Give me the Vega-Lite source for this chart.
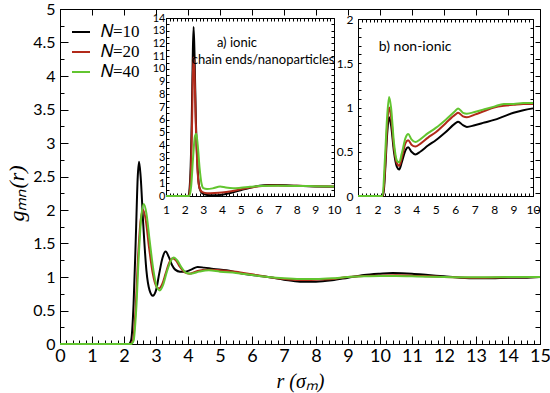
{
  "$schema": "https://vega.github.io/schema/vega-lite/v6.json",
  "width": 480,
  "height": 335,
  "autosize": {"type": "none"},
  "padding": {"left": 60, "top": 9, "right": 10, "bottom": 49},
  "config": {
    "view": {"stroke": null},
    "axis": {"grid": false, "domainColor": "#000000", "tickColor": "#000000", "labelColor": "#000000", "titleColor": "#000000", "labelFont": "Lato", "labelOverlap": false, "labelFlush": false}
  },
  "datasets": {
    "dummy": [{"k": 1}],
    "main": [
      {"N": "𝑁=10", "r": 0, "g": 0}, {"N": "𝑁=10", "r": 2.15, "g": 0}, {"N": "𝑁=10", "r": 2.22, "g": 0.05}, {"N": "𝑁=10", "r": 2.3, "g": 0.6}, {"N": "𝑁=10", "r": 2.37, "g": 1.6}, {"N": "𝑁=10", "r": 2.43, "g": 2.5}, {"N": "𝑁=10", "r": 2.47, "g": 2.72}, {"N": "𝑁=10", "r": 2.52, "g": 2.5}, {"N": "𝑁=10", "r": 2.6, "g": 1.8}, {"N": "𝑁=10", "r": 2.7, "g": 1.1}, {"N": "𝑁=10", "r": 2.8, "g": 0.8}, {"N": "𝑁=10", "r": 2.9, "g": 0.72}, {"N": "𝑁=10", "r": 3.0, "g": 0.8}, {"N": "𝑁=10", "r": 3.1, "g": 1.05}, {"N": "𝑁=10", "r": 3.2, "g": 1.28}, {"N": "𝑁=10", "r": 3.3, "g": 1.38}, {"N": "𝑁=10", "r": 3.4, "g": 1.3}, {"N": "𝑁=10", "r": 3.5, "g": 1.18}, {"N": "𝑁=10", "r": 3.6, "g": 1.11}, {"N": "𝑁=10", "r": 3.75, "g": 1.08}, {"N": "𝑁=10", "r": 3.9, "g": 1.08}, {"N": "𝑁=10", "r": 4.1, "g": 1.11}, {"N": "𝑁=10", "r": 4.3, "g": 1.15}, {"N": "𝑁=10", "r": 4.5, "g": 1.14}, {"N": "𝑁=10", "r": 4.8, "g": 1.12}, {"N": "𝑁=10", "r": 5.2, "g": 1.1}, {"N": "𝑁=10", "r": 5.6, "g": 1.06}, {"N": "𝑁=10", "r": 6.0, "g": 1.03}, {"N": "𝑁=10", "r": 6.5, "g": 1.0}, {"N": "𝑁=10", "r": 7.0, "g": 0.96}, {"N": "𝑁=10", "r": 7.5, "g": 0.93}, {"N": "𝑁=10", "r": 8.0, "g": 0.93}, {"N": "𝑁=10", "r": 8.5, "g": 0.95}, {"N": "𝑁=10", "r": 9.0, "g": 0.99}, {"N": "𝑁=10", "r": 9.5, "g": 1.03}, {"N": "𝑁=10", "r": 10.0, "g": 1.05}, {"N": "𝑁=10", "r": 10.4, "g": 1.06}, {"N": "𝑁=10", "r": 11.0, "g": 1.05}, {"N": "𝑁=10", "r": 11.5, "g": 1.03}, {"N": "𝑁=10", "r": 12.0, "g": 1.01}, {"N": "𝑁=10", "r": 12.5, "g": 0.99}, {"N": "𝑁=10", "r": 13.0, "g": 0.98}, {"N": "𝑁=10", "r": 13.5, "g": 0.98}, {"N": "𝑁=10", "r": 14.0, "g": 0.99}, {"N": "𝑁=10", "r": 14.5, "g": 0.99}, {"N": "𝑁=10", "r": 15.0, "g": 1.0},
      {"N": "𝑁=20", "r": 0, "g": 0}, {"N": "𝑁=20", "r": 2.2, "g": 0}, {"N": "𝑁=20", "r": 2.28, "g": 0.05}, {"N": "𝑁=20", "r": 2.36, "g": 0.5}, {"N": "𝑁=20", "r": 2.44, "g": 1.3}, {"N": "𝑁=20", "r": 2.52, "g": 1.85}, {"N": "𝑁=20", "r": 2.6, "g": 2.0}, {"N": "𝑁=20", "r": 2.68, "g": 1.85}, {"N": "𝑁=20", "r": 2.78, "g": 1.45}, {"N": "𝑁=20", "r": 2.9, "g": 1.05}, {"N": "𝑁=20", "r": 3.0, "g": 0.87}, {"N": "𝑁=20", "r": 3.1, "g": 0.83}, {"N": "𝑁=20", "r": 3.2, "g": 0.9}, {"N": "𝑁=20", "r": 3.3, "g": 1.05}, {"N": "𝑁=20", "r": 3.42, "g": 1.22}, {"N": "𝑁=20", "r": 3.52, "g": 1.28}, {"N": "𝑁=20", "r": 3.62, "g": 1.25}, {"N": "𝑁=20", "r": 3.75, "g": 1.15}, {"N": "𝑁=20", "r": 3.9, "g": 1.07}, {"N": "𝑁=20", "r": 4.05, "g": 1.05}, {"N": "𝑁=20", "r": 4.3, "g": 1.09}, {"N": "𝑁=20", "r": 4.6, "g": 1.11}, {"N": "𝑁=20", "r": 5.0, "g": 1.1}, {"N": "𝑁=20", "r": 5.5, "g": 1.08}, {"N": "𝑁=20", "r": 6.0, "g": 1.04}, {"N": "𝑁=20", "r": 6.5, "g": 1.0}, {"N": "𝑁=20", "r": 7.0, "g": 0.97}, {"N": "𝑁=20", "r": 7.5, "g": 0.955}, {"N": "𝑁=20", "r": 8.0, "g": 0.96}, {"N": "𝑁=20", "r": 8.5, "g": 0.97}, {"N": "𝑁=20", "r": 9.0, "g": 1.0}, {"N": "𝑁=20", "r": 9.5, "g": 1.015}, {"N": "𝑁=20", "r": 10.0, "g": 1.02}, {"N": "𝑁=20", "r": 10.5, "g": 1.025}, {"N": "𝑁=20", "r": 11.0, "g": 1.02}, {"N": "𝑁=20", "r": 11.5, "g": 1.01}, {"N": "𝑁=20", "r": 12.0, "g": 1.0}, {"N": "𝑁=20", "r": 13.0, "g": 0.99}, {"N": "𝑁=20", "r": 14.0, "g": 0.995}, {"N": "𝑁=20", "r": 15.0, "g": 1.0},
      {"N": "𝑁=40", "r": 0, "g": 0}, {"N": "𝑁=40", "r": 2.22, "g": 0}, {"N": "𝑁=40", "r": 2.3, "g": 0.05}, {"N": "𝑁=40", "r": 2.38, "g": 0.5}, {"N": "𝑁=40", "r": 2.46, "g": 1.3}, {"N": "𝑁=40", "r": 2.54, "g": 1.9}, {"N": "𝑁=40", "r": 2.62, "g": 2.09}, {"N": "𝑁=40", "r": 2.7, "g": 1.95}, {"N": "𝑁=40", "r": 2.8, "g": 1.55}, {"N": "𝑁=40", "r": 2.92, "g": 1.1}, {"N": "𝑁=40", "r": 3.02, "g": 0.86}, {"N": "𝑁=40", "r": 3.12, "g": 0.8}, {"N": "𝑁=40", "r": 3.22, "g": 0.88}, {"N": "𝑁=40", "r": 3.34, "g": 1.08}, {"N": "𝑁=40", "r": 3.46, "g": 1.24}, {"N": "𝑁=40", "r": 3.56, "g": 1.29}, {"N": "𝑁=40", "r": 3.66, "g": 1.25}, {"N": "𝑁=40", "r": 3.8, "g": 1.14}, {"N": "𝑁=40", "r": 3.95, "g": 1.06}, {"N": "𝑁=40", "r": 4.1, "g": 1.05}, {"N": "𝑁=40", "r": 4.35, "g": 1.08}, {"N": "𝑁=40", "r": 4.65, "g": 1.1}, {"N": "𝑁=40", "r": 5.0, "g": 1.08}, {"N": "𝑁=40", "r": 5.5, "g": 1.06}, {"N": "𝑁=40", "r": 6.0, "g": 1.03}, {"N": "𝑁=40", "r": 6.5, "g": 1.0}, {"N": "𝑁=40", "r": 7.0, "g": 0.98}, {"N": "𝑁=40", "r": 7.5, "g": 0.97}, {"N": "𝑁=40", "r": 8.0, "g": 0.97}, {"N": "𝑁=40", "r": 8.5, "g": 0.98}, {"N": "𝑁=40", "r": 9.0, "g": 1.0}, {"N": "𝑁=40", "r": 9.5, "g": 1.01}, {"N": "𝑁=40", "r": 10.0, "g": 1.015}, {"N": "𝑁=40", "r": 10.5, "g": 1.015}, {"N": "𝑁=40", "r": 11.0, "g": 1.01}, {"N": "𝑁=40", "r": 12.0, "g": 1.0}, {"N": "𝑁=40", "r": 13.0, "g": 0.995}, {"N": "𝑁=40", "r": 14.0, "g": 1.0}, {"N": "𝑁=40", "r": 15.0, "g": 1.0}
    ],
    "ionic": [
      {"N": "𝑁=10", "r": 1, "g": 0}, {"N": "𝑁=10", "r": 2.2, "g": 0}, {"N": "𝑁=10", "r": 2.3, "g": 1.5}, {"N": "𝑁=10", "r": 2.38, "g": 6}, {"N": "𝑁=10", "r": 2.44, "g": 11.5}, {"N": "𝑁=10", "r": 2.48, "g": 13.3}, {"N": "𝑁=10", "r": 2.53, "g": 11}, {"N": "𝑁=10", "r": 2.6, "g": 6}, {"N": "𝑁=10", "r": 2.7, "g": 2}, {"N": "𝑁=10", "r": 2.8, "g": 0.6}, {"N": "𝑁=10", "r": 2.95, "g": 0.2}, {"N": "𝑁=10", "r": 3.2, "g": 0.08}, {"N": "𝑁=10", "r": 3.6, "g": 0.05}, {"N": "𝑁=10", "r": 4.0, "g": 0.1}, {"N": "𝑁=10", "r": 4.5, "g": 0.25}, {"N": "𝑁=10", "r": 5.0, "g": 0.45}, {"N": "𝑁=10", "r": 5.5, "g": 0.65}, {"N": "𝑁=10", "r": 6.0, "g": 0.8}, {"N": "𝑁=10", "r": 6.5, "g": 0.86}, {"N": "𝑁=10", "r": 7.0, "g": 0.86}, {"N": "𝑁=10", "r": 8.0, "g": 0.8}, {"N": "𝑁=10", "r": 9.0, "g": 0.75}, {"N": "𝑁=10", "r": 10.0, "g": 0.72},
      {"N": "𝑁=20", "r": 1, "g": 0}, {"N": "𝑁=20", "r": 2.22, "g": 0}, {"N": "𝑁=20", "r": 2.32, "g": 1.5}, {"N": "𝑁=20", "r": 2.4, "g": 6}, {"N": "𝑁=20", "r": 2.46, "g": 10.9}, {"N": "𝑁=20", "r": 2.52, "g": 10}, {"N": "𝑁=20", "r": 2.6, "g": 5.5}, {"N": "𝑁=20", "r": 2.7, "g": 1.8}, {"N": "𝑁=20", "r": 2.8, "g": 0.6}, {"N": "𝑁=20", "r": 2.95, "g": 0.3}, {"N": "𝑁=20", "r": 3.2, "g": 0.22}, {"N": "𝑁=20", "r": 3.6, "g": 0.24}, {"N": "𝑁=20", "r": 4.0, "g": 0.28}, {"N": "𝑁=20", "r": 4.5, "g": 0.38}, {"N": "𝑁=20", "r": 5.0, "g": 0.52}, {"N": "𝑁=20", "r": 5.5, "g": 0.66}, {"N": "𝑁=20", "r": 6.0, "g": 0.76}, {"N": "𝑁=20", "r": 6.5, "g": 0.82}, {"N": "𝑁=20", "r": 7.0, "g": 0.83}, {"N": "𝑁=20", "r": 8.0, "g": 0.8}, {"N": "𝑁=20", "r": 9.0, "g": 0.77}, {"N": "𝑁=20", "r": 10.0, "g": 0.74},
      {"N": "𝑁=40", "r": 1, "g": 0}, {"N": "𝑁=40", "r": 2.25, "g": 0}, {"N": "𝑁=40", "r": 2.35, "g": 0.8}, {"N": "𝑁=40", "r": 2.45, "g": 3}, {"N": "𝑁=40", "r": 2.55, "g": 4.7}, {"N": "𝑁=40", "r": 2.62, "g": 4.9}, {"N": "𝑁=40", "r": 2.7, "g": 4.0}, {"N": "𝑁=40", "r": 2.8, "g": 2.2}, {"N": "𝑁=40", "r": 2.9, "g": 1.0}, {"N": "𝑁=40", "r": 3.0, "g": 0.62}, {"N": "𝑁=40", "r": 3.2, "g": 0.55}, {"N": "𝑁=40", "r": 3.5, "g": 0.6}, {"N": "𝑁=40", "r": 3.9, "g": 0.75}, {"N": "𝑁=40", "r": 4.2, "g": 0.66}, {"N": "𝑁=40", "r": 4.6, "g": 0.6}, {"N": "𝑁=40", "r": 5.0, "g": 0.64}, {"N": "𝑁=40", "r": 5.5, "g": 0.72}, {"N": "𝑁=40", "r": 6.0, "g": 0.78}, {"N": "𝑁=40", "r": 7.0, "g": 0.8}, {"N": "𝑁=40", "r": 8.0, "g": 0.79}, {"N": "𝑁=40", "r": 9.0, "g": 0.77}, {"N": "𝑁=40", "r": 10.0, "g": 0.75}
    ],
    "nonionic": [
      {"N": "𝑁=10", "r": 1, "g": 0}, {"N": "𝑁=10", "r": 2.3, "g": 0}, {"N": "𝑁=10", "r": 2.4, "g": 0.3}, {"N": "𝑁=10", "r": 2.5, "g": 0.7}, {"N": "𝑁=10", "r": 2.6, "g": 0.89}, {"N": "𝑁=10", "r": 2.7, "g": 0.8}, {"N": "𝑁=10", "r": 2.85, "g": 0.5}, {"N": "𝑁=10", "r": 3.0, "g": 0.33}, {"N": "𝑁=10", "r": 3.12, "g": 0.3}, {"N": "𝑁=10", "r": 3.25, "g": 0.38}, {"N": "𝑁=10", "r": 3.45, "g": 0.52}, {"N": "𝑁=10", "r": 3.58, "g": 0.55}, {"N": "𝑁=10", "r": 3.75, "g": 0.5}, {"N": "𝑁=10", "r": 3.95, "g": 0.47}, {"N": "𝑁=10", "r": 4.2, "g": 0.5}, {"N": "𝑁=10", "r": 4.6, "g": 0.57}, {"N": "𝑁=10", "r": 5.0, "g": 0.63}, {"N": "𝑁=10", "r": 5.5, "g": 0.72}, {"N": "𝑁=10", "r": 6.0, "g": 0.82}, {"N": "𝑁=10", "r": 6.15, "g": 0.84}, {"N": "𝑁=10", "r": 6.4, "g": 0.8}, {"N": "𝑁=10", "r": 6.6, "g": 0.78}, {"N": "𝑁=10", "r": 7.0, "g": 0.8}, {"N": "𝑁=10", "r": 7.5, "g": 0.83}, {"N": "𝑁=10", "r": 8.0, "g": 0.86}, {"N": "𝑁=10", "r": 8.5, "g": 0.9}, {"N": "𝑁=10", "r": 9.0, "g": 0.94}, {"N": "𝑁=10", "r": 9.5, "g": 0.97}, {"N": "𝑁=10", "r": 10.0, "g": 0.99},
      {"N": "𝑁=20", "r": 1, "g": 0}, {"N": "𝑁=20", "r": 2.28, "g": 0}, {"N": "𝑁=20", "r": 2.4, "g": 0.35}, {"N": "𝑁=20", "r": 2.5, "g": 0.8}, {"N": "𝑁=20", "r": 2.6, "g": 1.0}, {"N": "𝑁=20", "r": 2.7, "g": 0.9}, {"N": "𝑁=20", "r": 2.85, "g": 0.55}, {"N": "𝑁=20", "r": 3.0, "g": 0.37}, {"N": "𝑁=20", "r": 3.12, "g": 0.34}, {"N": "𝑁=20", "r": 3.25, "g": 0.43}, {"N": "𝑁=20", "r": 3.45, "g": 0.6}, {"N": "𝑁=20", "r": 3.58, "g": 0.63}, {"N": "𝑁=20", "r": 3.75, "g": 0.58}, {"N": "𝑁=20", "r": 3.95, "g": 0.56}, {"N": "𝑁=20", "r": 4.2, "g": 0.59}, {"N": "𝑁=20", "r": 4.6, "g": 0.66}, {"N": "𝑁=20", "r": 5.0, "g": 0.72}, {"N": "𝑁=20", "r": 5.5, "g": 0.82}, {"N": "𝑁=20", "r": 6.0, "g": 0.92}, {"N": "𝑁=20", "r": 6.15, "g": 0.94}, {"N": "𝑁=20", "r": 6.4, "g": 0.9}, {"N": "𝑁=20", "r": 6.6, "g": 0.89}, {"N": "𝑁=20", "r": 7.0, "g": 0.92}, {"N": "𝑁=20", "r": 7.5, "g": 0.96}, {"N": "𝑁=20", "r": 8.0, "g": 1.0}, {"N": "𝑁=20", "r": 8.5, "g": 1.02}, {"N": "𝑁=20", "r": 9.0, "g": 1.03}, {"N": "𝑁=20", "r": 9.5, "g": 1.04}, {"N": "𝑁=20", "r": 10.0, "g": 1.04},
      {"N": "𝑁=40", "r": 1, "g": 0}, {"N": "𝑁=40", "r": 2.26, "g": 0}, {"N": "𝑁=40", "r": 2.38, "g": 0.4}, {"N": "𝑁=40", "r": 2.5, "g": 0.9}, {"N": "𝑁=40", "r": 2.6, "g": 1.12}, {"N": "𝑁=40", "r": 2.7, "g": 1.0}, {"N": "𝑁=40", "r": 2.85, "g": 0.6}, {"N": "𝑁=40", "r": 3.0, "g": 0.4}, {"N": "𝑁=40", "r": 3.12, "g": 0.38}, {"N": "𝑁=40", "r": 3.25, "g": 0.48}, {"N": "𝑁=40", "r": 3.45, "g": 0.66}, {"N": "𝑁=40", "r": 3.58, "g": 0.7}, {"N": "𝑁=40", "r": 3.75, "g": 0.64}, {"N": "𝑁=40", "r": 3.95, "g": 0.61}, {"N": "𝑁=40", "r": 4.2, "g": 0.64}, {"N": "𝑁=40", "r": 4.6, "g": 0.71}, {"N": "𝑁=40", "r": 5.0, "g": 0.77}, {"N": "𝑁=40", "r": 5.5, "g": 0.86}, {"N": "𝑁=40", "r": 6.0, "g": 0.96}, {"N": "𝑁=40", "r": 6.15, "g": 0.99}, {"N": "𝑁=40", "r": 6.4, "g": 0.94}, {"N": "𝑁=40", "r": 6.6, "g": 0.93}, {"N": "𝑁=40", "r": 7.0, "g": 0.95}, {"N": "𝑁=40", "r": 7.5, "g": 0.98}, {"N": "𝑁=40", "r": 8.0, "g": 1.01}, {"N": "𝑁=40", "r": 8.5, "g": 1.04}, {"N": "𝑁=40", "r": 9.0, "g": 1.04}, {"N": "𝑁=40", "r": 9.5, "g": 1.05}, {"N": "𝑁=40", "r": 10.0, "g": 1.05}
    ]
  },
  "layer": [
    {
      "data": {"name": "main"},
      "mark": {"type": "line", "strokeWidth": 2, "interpolate": "monotone"},
      "encoding": {
        "x": {"field": "r", "type": "quantitative", "scale": {"domain": [0, 15], "nice": false, "zero": false},
          "axis": {"orient": "bottom", "values": [0,1,2,3,4,5,6,7,8,9,10,11,12,13,14,15], "format": "~g", "ticks": false, "labelPadding": 3, "labelFontSize": 18,
            "title": "r (σₘ)", "titleFont": "Liberation Serif", "titleFontStyle": "italic", "titleFontWeight": "normal", "titleFontSize": 20, "titleY": 27, "titleBaseline": "top"}},
        "y": {"field": "g", "type": "quantitative", "scale": {"domain": [0, 5], "nice": false, "zero": false},
          "axis": {"orient": "left", "values": [0,0.5,1,1.5,2,2.5,3,3.5,4,4.5,5], "format": "~g", "ticks": false, "labelPadding": 5, "labelFontSize": 16,
            "title": "gₘₙ(r)", "titleFont": "Liberation Serif", "titleFontStyle": "italic", "titleFontWeight": "normal", "titleFontSize": 22, "titleX": -32, "titleY": 184}},
        "color": {"field": "N", "type": "nominal",
          "scale": {"domain": ["𝑁=10", "𝑁=20", "𝑁=40"], "range": ["#000000", "#b22a1a", "#62c530"]},
          "legend": {"orient": "none", "legendX": 11, "legendY": 13, "title": null, "padding": 0, "labelFont": "Liberation Serif", "labelFontSize": 17, "labelColor": "#000000", "symbolType": "stroke", "symbolSize": 324, "symbolStrokeWidth": 2, "rowPadding": 2, "labelOffset": 10}}
      }
    },
    {
      "data": {"name": "main"},
      "mark": {"type": "line", "opacity": 0},
      "encoding": {
        "x": {"field": "r", "type": "quantitative", "scale": {"domain": [0, 15], "nice": false, "zero": false}, "axis": {"orient": "top", "offset": -335, "values": [0,1,2,3,4,5,6,7,8,9,10,11,12,13,14,15], "labels": false, "tickSize": 8, "title": null}},
        "y": {"field": "g", "type": "quantitative", "scale": {"domain": [0, 5], "nice": false, "zero": false}, "axis": {"orient": "right", "offset": -480, "values": [0,0.5,1,1.5,2,2.5,3,3.5,4,4.5,5], "labels": false, "tickSize": 8, "title": null}}
      }
    },
    {
      "data": {"name": "main"},
      "mark": {"type": "line", "opacity": 0},
      "encoding": {
        "x": {"field": "r", "type": "quantitative", "scale": {"domain": [0, 15], "nice": false, "zero": false}, "axis": {"orient": "top", "offset": -335, "values": [0.2,0.4,0.6,0.8,1.2,1.4,1.6,1.8,2.2,2.4,2.6,2.8,3.2,3.4,3.6,3.8,4.2,4.4,4.6,4.8,5.2,5.4,5.6,5.8,6.2,6.4,6.6,6.8,7.2,7.4,7.6,7.8,8.2,8.4,8.6,8.8,9.2,9.4,9.6,9.8,10.2,10.4,10.6,10.8,11.2,11.4,11.6,11.8,12.2,12.4,12.6,12.8,13.2,13.4,13.6,13.8,14.2,14.4,14.6,14.8], "labels": false, "tickSize": 4, "title": null}},
        "y": {"field": "g", "type": "quantitative", "scale": {"domain": [0, 5], "nice": false, "zero": false}, "axis": {"orient": "right", "offset": -480, "values": [0.25,0.75,1.25,1.75,2.25,2.75,3.25,3.75,4.25,4.75], "labels": false, "tickSize": 4, "title": null}}
      }
    },
    {
      "data": {"name": "main"},
      "mark": {"type": "line", "opacity": 0},
      "encoding": {
        "x": {"field": "r", "type": "quantitative", "scale": {"domain": [0, 15], "nice": false, "zero": false}, "axis": {"orient": "bottom", "offset": -335, "values": [0,1,2,3,4,5,6,7,8,9,10,11,12,13,14,15], "labels": false, "tickSize": 6, "title": null}},
        "y": {"field": "g", "type": "quantitative", "scale": {"domain": [0, 5], "nice": false, "zero": false}, "axis": {"orient": "left", "offset": -480, "values": [0,0.25,0.5,0.75,1,1.25,1.5,1.75,2,2.25,2.5,2.75,3,3.25,3.5,3.75,4,4.25,4.5,4.75,5], "labels": false, "tickSize": 5, "title": null}}
      }
    },
    {
      "data": {"name": "ionic"},
      "mark": {"type": "line", "strokeWidth": 2, "interpolate": "monotone"},
      "encoding": {
        "x": {"field": "r", "type": "quantitative", "scale": {"domain": [1, 10], "range": [106, 274], "nice": false, "zero": false}, "axis": {"orient": "bottom", "offset": -148, "values": [1,2,3,4,5,6,7,8,9,10], "ticks": false, "labelPadding": 8, "labelFontSize": 12, "title": null}},
        "y": {"field": "g", "type": "quantitative", "scale": {"domain": [0, 14], "range": [187, 9], "nice": false, "zero": false}, "axis": {"orient": "left", "offset": -106, "values": [0,1,2,3,4,5,6,7,8,9,10,11,12,13,14], "ticks": false, "labelPadding": 1, "labelFontSize": 11, "title": null}},
        "color": {"field": "N", "type": "nominal", "scale": {"domain": ["𝑁=10", "𝑁=20", "𝑁=40"], "range": ["#000000", "#b22a1a", "#62c530"]}, "legend": null}
      }
    },
    {
      "data": {"name": "ionic"},
      "mark": {"type": "line", "opacity": 0},
      "encoding": {
        "x": {"field": "r", "type": "quantitative", "scale": {"domain": [1, 10], "range": [106, 274], "nice": false, "zero": false}, "axis": {"orient": "top", "offset": -187, "values": [1,1.2,1.4,1.6,1.8,2,2.2,2.4,2.6,2.8,3,3.2,3.4,3.6,3.8,4,4.2,4.4,4.6,4.8,5,5.2,5.4,5.6,5.8,6,6.2,6.4,6.6,6.8,7,7.2,7.4,7.6,7.8,8,8.2,8.4,8.6,8.8,9,9.2,9.4,9.6,9.8,10], "labels": false, "tickSize": 3, "title": null}},
        "y": {"field": "g", "type": "quantitative", "scale": {"domain": [0, 14], "range": [187, 9], "nice": false, "zero": false}, "axis": {"orient": "right", "offset": -374, "values": [0,0.5,1,1.5,2,2.5,3,3.5,4,4.5,5,5.5,6,6.5,7,7.5,8,8.5,9,9.5,10,10.5,11,11.5,12,12.5,13,13.5,14], "labels": false, "tickSize": 3, "title": null}}
      }
    },
    {
      "data": {"name": "ionic"},
      "mark": {"type": "line", "opacity": 0},
      "encoding": {
        "x": {"field": "r", "type": "quantitative", "scale": {"domain": [1, 10], "range": [106, 274], "nice": false, "zero": false}, "axis": {"orient": "bottom", "offset": -326, "values": [1,1.2,1.4,1.6,1.8,2,2.2,2.4,2.6,2.8,3,3.2,3.4,3.6,3.8,4,4.2,4.4,4.6,4.8,5,5.2,5.4,5.6,5.8,6,6.2,6.4,6.6,6.8,7,7.2,7.4,7.6,7.8,8,8.2,8.4,8.6,8.8,9,9.2,9.4,9.6,9.8,10], "labels": false, "tickSize": 3, "title": null}},
        "y": {"field": "g", "type": "quantitative", "scale": {"domain": [0, 14], "range": [187, 9], "nice": false, "zero": false}, "axis": {"orient": "left", "offset": -274, "values": [0,0.5,1,1.5,2,2.5,3,3.5,4,4.5,5,5.5,6,6.5,7,7.5,8,8.5,9,9.5,10,10.5,11,11.5,12,12.5,13,13.5,14], "labels": false, "tickSize": 3, "title": null}}
      }
    },
    {
      "data": {"name": "dummy"},
      "mark": {"type": "text", "font": "Lato", "fontSize": 13, "align": "center", "baseline": "middle", "color": "#000000"},
      "encoding": {
        "x": {"datum": 4.8, "type": "quantitative", "scale": {"domain": [1, 10], "range": [106, 274], "nice": false, "zero": false}, "axis": null},
        "y": {"datum": 12.0, "type": "quantitative", "scale": {"domain": [0, 14], "range": [187, 9], "nice": false, "zero": false}, "axis": null},
        "text": {"value": "a) ionic"}
      }
    },
    {
      "data": {"name": "dummy"},
      "mark": {"type": "text", "font": "Lato", "fontSize": 13, "align": "center", "baseline": "middle", "color": "#000000"},
      "encoding": {
        "x": {"datum": 6.2, "type": "quantitative", "scale": {"domain": [1, 10], "range": [106, 274], "nice": false, "zero": false}, "axis": null},
        "y": {"datum": 10.7, "type": "quantitative", "scale": {"domain": [0, 14], "range": [187, 9], "nice": false, "zero": false}, "axis": null},
        "text": {"value": "chain ends/nanoparticles"}
      }
    },
    {
      "data": {"name": "nonionic"},
      "mark": {"type": "line", "strokeWidth": 2, "interpolate": "monotone"},
      "encoding": {
        "x": {"field": "r", "type": "quantitative", "scale": {"domain": [1, 10], "range": [298, 473], "nice": false, "zero": false}, "axis": {"orient": "bottom", "offset": -148, "values": [1,2,3,4,5,6,7,8,9,10], "ticks": false, "labelPadding": 8, "labelFontSize": 12, "title": null}},
        "y": {"field": "g", "type": "quantitative", "scale": {"domain": [0, 2], "range": [187, 10], "nice": false, "zero": false}, "axis": {"orient": "left", "offset": -298, "values": [0,0.5,1,1.5,2], "format": "~g", "ticks": false, "labelPadding": 5, "labelFontSize": 12, "title": null}},
        "color": {"field": "N", "type": "nominal", "scale": {"domain": ["𝑁=10", "𝑁=20", "𝑁=40"], "range": ["#000000", "#b22a1a", "#62c530"]}, "legend": null}
      }
    },
    {
      "data": {"name": "nonionic"},
      "mark": {"type": "line", "opacity": 0},
      "encoding": {
        "x": {"field": "r", "type": "quantitative", "scale": {"domain": [1, 10], "range": [298, 473], "nice": false, "zero": false}, "axis": {"orient": "top", "offset": -187, "values": [1,1.2,1.4,1.6,1.8,2,2.2,2.4,2.6,2.8,3,3.2,3.4,3.6,3.8,4,4.2,4.4,4.6,4.8,5,5.2,5.4,5.6,5.8,6,6.2,6.4,6.6,6.8,7,7.2,7.4,7.6,7.8,8,8.2,8.4,8.6,8.8,9,9.2,9.4,9.6,9.8,10], "labels": false, "tickSize": 3, "title": null}},
        "y": {"field": "g", "type": "quantitative", "scale": {"domain": [0, 2], "range": [187, 10], "nice": false, "zero": false}, "axis": {"orient": "right", "offset": -182, "values": [0,0.1,0.2,0.3,0.4,0.5,0.6,0.7,0.8,0.9,1,1.1,1.2,1.3,1.4,1.5,1.6,1.7,1.8,1.9,2], "labels": false, "tickSize": 3, "title": null}}
      }
    },
    {
      "data": {"name": "nonionic"},
      "mark": {"type": "line", "opacity": 0},
      "encoding": {
        "x": {"field": "r", "type": "quantitative", "scale": {"domain": [1, 10], "range": [298, 473], "nice": false, "zero": false}, "axis": {"orient": "bottom", "offset": -325, "values": [1,1.2,1.4,1.6,1.8,2,2.2,2.4,2.6,2.8,3,3.2,3.4,3.6,3.8,4,4.2,4.4,4.6,4.8,5,5.2,5.4,5.6,5.8,6,6.2,6.4,6.6,6.8,7,7.2,7.4,7.6,7.8,8,8.2,8.4,8.6,8.8,9,9.2,9.4,9.6,9.8,10], "labels": false, "tickSize": 3, "title": null}},
        "y": {"field": "g", "type": "quantitative", "scale": {"domain": [0, 2], "range": [187, 10], "nice": false, "zero": false}, "axis": {"orient": "left", "offset": -473, "values": [0,0.1,0.2,0.3,0.4,0.5,0.6,0.7,0.8,0.9,1,1.1,1.2,1.3,1.4,1.5,1.6,1.7,1.8,1.9,2], "labels": false, "tickSize": 3, "title": null}}
      }
    },
    {
      "data": {"name": "dummy"},
      "mark": {"type": "text", "font": "Lato", "fontSize": 14, "align": "center", "baseline": "middle", "color": "#000000"},
      "encoding": {
        "x": {"datum": 3.94, "type": "quantitative", "scale": {"domain": [1, 10], "range": [298, 473], "nice": false, "zero": false}, "axis": null},
        "y": {"datum": 1.685, "type": "quantitative", "scale": {"domain": [0, 2], "range": [187, 10], "nice": false, "zero": false}, "axis": null},
        "text": {"value": "b) non-ionic"}
      }
    }
  ],
  "resolve": {"scale": {"x": "independent", "y": "independent", "color": "independent"}}
}
